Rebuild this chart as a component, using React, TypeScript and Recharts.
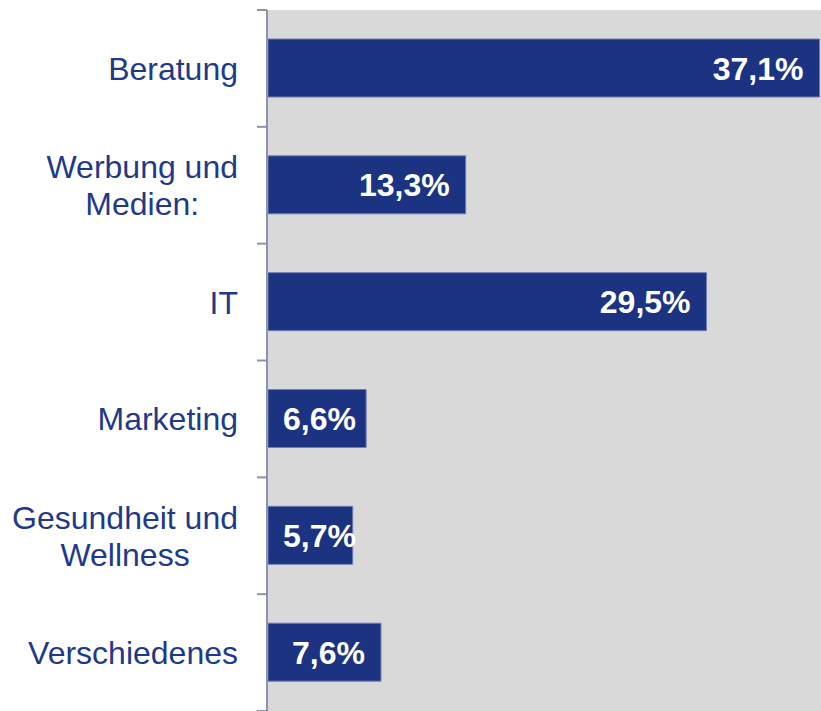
import React from 'react';
import { BarChart, Bar, XAxis, YAxis, CartesianGrid } from 'recharts';

const categories = ['Beratung', 'Werbung und\nMedien:', 'IT', 'Marketing', 'Gesundheit und\nWellness', 'Verschiedenes'];
const shares = [37.1, 13.3, 29.5, 6.6, 5.7, 7.6];

const data = categories.map((name, i) => ({ name, share: shares[i] }));

// the frame axis runs over the index range 0..n-1; its ticks sit on the category borders
const n = categories.length;
const frameTicks = Array.from({ length: n + 1 }, (_, i) => (i * (n - 1)) / n);

const FONT = "'Liberation Sans', Arial, sans-serif";
const BLUE = '#1b3381';
const TEXT_BLUE = '#1f3a8a';
const AXIS = '#8d91b6';

let ctx: CanvasRenderingContext2D | null = null;
function measure(text: string, font: string) {
	if (!ctx) ctx = document.createElement('canvas').getContext('2d');
	if (!ctx) return text.length * 16;
	ctx.font = font;
	return ctx.measureText(text).width;
}

const fmt = (v: number) => v.toFixed(1).replace('.', ',') + '%';

// tick marks only, no text
const NoText = () => <g />;

function CategoryTick({ x, y, payload }: any) {
	const lines = String(payload.value).split('\n');
	const font = `32px ${FONT}`;
	const w = Math.max(...lines.map(l => measure(l, '32px "Liberation Sans"')));
	const right = x - 30;
	const cx = right - w / 2;
	const lh = 37;
	const start = -((lines.length - 1) * lh) / 2;
	return (
		<text x={cx} y={y} textAnchor="middle" fill={TEXT_BLUE} style={{ font }}>
			{lines.map((l, i) => (
				<tspan key={i} x={cx} y={y + start + i * lh} dy="0.36em">{l}</tspan>
			))}
		</text>
	);
}

function ValueLabel({ x, y, width, height, value }: any) {
	const txt = fmt(value);
	const w = measure(txt, 'bold 32px "Liberation Sans"');
	const left = Math.max(x + 15, x + width - 16 - w);
	return (
		<text x={left} y={y + height / 2} dy="0.36em" fill="#ffffff" style={{ font: `bold 32px ${FONT}` }}>
			{txt}
		</text>
	);
}

export default function App() {
	return (
		<div style={{ width: 821, height: 711 }}>
			<style>{'body{margin:0}'}</style>
			<BarChart
				width={821}
				height={711}
				data={data}
				layout="vertical"
				margin={{ top: 10, right: 0, left: 0, bottom: 0 }}
			>
				<CartesianGrid fill="#d9d9d9" stroke="none" horizontal={false} vertical={false} />
				<XAxis type="number" domain={[0, 37.2]} hide />
				<YAxis
					yAxisId="frame"
					type="number"
					ticks={frameTicks}
					interval={0}
					width={267}
					tick={<NoText />}
					tickSize={10}
					tickLine={{ stroke: AXIS, strokeWidth: 2 }}
					axisLine={{ stroke: AXIS, strokeWidth: 2 }}
				/>
				<YAxis
					yAxisId="cat"
					type="category"
					dataKey="name"
					width={1}
					axisLine={false}
					tickLine={false}
					tickSize={0}
					tickMargin={0}
					interval={0}
					tick={<CategoryTick />}
				/>
				<Bar
					yAxisId="cat"
					dataKey="share"
					fill={BLUE}
					stroke="#6f7fb3"
					strokeWidth={1}
					barSize={58}
					isAnimationActive={false}
					label={<ValueLabel />}
				/>
			</BarChart>
		</div>
	);
}
